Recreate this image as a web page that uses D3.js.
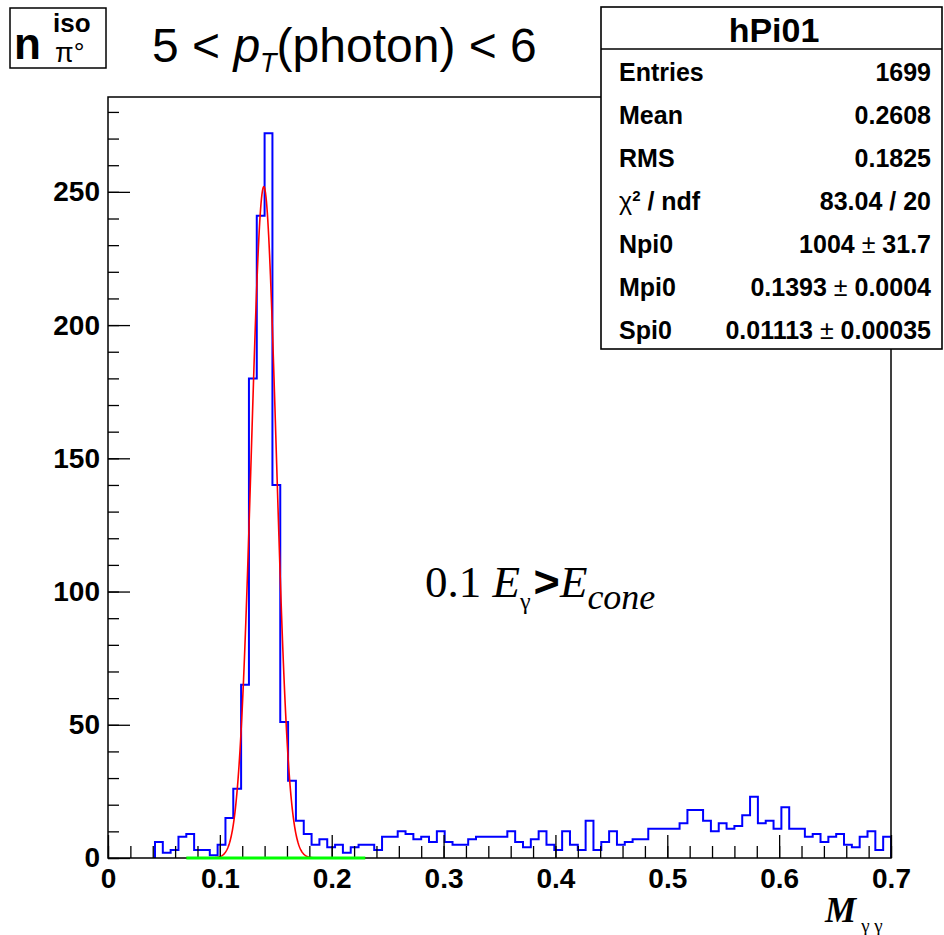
<!DOCTYPE html>
<html lang="en">
<head>
<meta charset="UTF-8" />
<title>hPi01</title>
<script src="https://cdn.jsdelivr.net/npm/d3@7"></script>
<style>
  body { margin: 0; padding: 0; background: #fff; }
  text { font-family: "Liberation Sans", Arial, sans-serif; }
  .serif { font-family: "Liberation Serif", "Times New Roman", serif; }
</style>
</head>
<body>
<svg width="944" height="935"></svg>
<script>
// histogram hPi01: 100 bins between 0 and 0.7
var xRange = [0, 0.7];
var nBins = 100;
var counts = [
  0, 0, 0, 0, 0, 0, 6, 2, 3, 8,
  9, 3, 3, 1, 5, 15, 26, 65, 180, 241,
  272, 140, 51, 29, 14, 9, 5, 7, 4, 5,
  2, 4, 5, 5, 3, 8, 8, 10, 9, 7,
  8, 6, 10, 6, 5, 5, 7, 8, 8, 8,
  8, 10, 6, 4, 7, 10, 5, 3, 10, 5,
  3, 14, 3, 6, 10, 5, 6, 7, 7, 11,
  11, 11, 11, 13, 18, 18, 14, 10, 13, 11,
  12, 16, 23, 13, 14, 11, 19, 11, 11, 8,
  9, 6, 8, 9, 5, 4, 8, 10, 3, 8
];

// gaussian fit (Npi0, Mpi0, Spi0) and its range, background ~ 0
var fitPars = [1004, 0.1393, 0.01113];
var fitRange = [0.07, 0.23];
var bgLevel = 0;

var xMajor = [0, 0.1, 0.2, 0.3, 0.4, 0.5, 0.6, 0.7];
var yMajor = [0, 50, 100, 150, 200, 250];

var statTitle = "hPi01";
var statLabels = ["Entries", "Mean", "RMS", "χ2 / ndf", "Npi0", "Mpi0", "Spi0"];
var statValues = ["1699", "0.2608", "0.1825", "83.04 / 20", "1004 ± 31.7", "0.1393 ± 0.0004", "0.01113 ± 0.00035"];

var svg = d3.select("svg");

var binW = (xRange[1] - xRange[0]) / nBins;
var yMax = 1.05 * d3.max(counts);

var x = d3.scaleLinear().domain(xRange).range([108, 891]);
var y = d3.scaleLinear().domain([0, yMax]).range([858, 97]);

// ---- histogram outline
var first = counts.findIndex(function(c) { return c > 0; });
var pts = [[xRange[0] + first * binW, 0]];
for (var i = first; i < nBins; i++) {
  pts.push([xRange[0] + i * binW, counts[i]]);
  pts.push([xRange[0] + (i + 1) * binW, counts[i]]);
}
pts.push([xRange[1], 0]);

svg.append("path")
  .attr("d", d3.line().x(function(d) { return x(d[0]); }).y(function(d) { return y(d[1]); })(pts))
  .attr("fill", "none")
  .attr("stroke", "#0000ff")
  .attr("stroke-width", 2);

// ---- fit curve
var amp = fitPars[0] * binW / (fitPars[2] * Math.sqrt(2 * Math.PI));
function fitFn(m) {
  var t = (m - fitPars[1]) / fitPars[2];
  return amp * Math.exp(-0.5 * t * t) + bgLevel;
}
var fitPts = d3.range(fitRange[0], fitRange[1] + 1e-9, (fitRange[1] - fitRange[0]) / 400);
svg.append("path")
  .attr("d", d3.line().x(function(d) { return x(d); }).y(function(d) { return y(fitFn(d)); })(fitPts))
  .attr("fill", "none")
  .attr("stroke", "#ff0000")
  .attr("stroke-width", 1.6);

// ---- axes (ticks inside the frame like ROOT)
svg.append("g").attr("transform", "translate(0,858)")
  .call(d3.axisBottom(x).tickValues(xMajor).tickSize(-23).tickPadding(10)
    .tickFormat(function(d) { return d === 0 ? "0" : d3.format(".1f")(d); }));
svg.append("g").attr("transform", "translate(0,858)")
  .call(d3.axisBottom(x).tickValues(d3.range(0, 0.7001, 0.02)).tickSize(-12).tickFormat(""));

svg.append("g").attr("transform", "translate(108,0)")
  .call(d3.axisLeft(y).tickValues(yMajor).tickSize(-22).tickPadding(8));
svg.append("g").attr("transform", "translate(108,0)")
  .call(d3.axisLeft(y).tickValues(d3.range(0, yMax, 10)).tickSize(-11).tickFormat(""));

svg.selectAll(".domain").remove();
svg.selectAll(".tick line").attr("stroke", "#000").attr("stroke-width", 1.3);
svg.selectAll(".tick text")
  .attr("fill", "#000")
  .style("font-family", "'Liberation Sans', Arial, sans-serif")
  .style("font-weight", "bold")
  .style("font-size", "28px");

// frame
svg.append("rect")
  .attr("x", 108).attr("y", 97).attr("width", 891 - 108).attr("height", 858 - 97)
  .attr("fill", "none").attr("stroke", "#000").attr("stroke-width", 1.5);

// background line of the fit (drawn over the axis)
svg.append("line")
  .attr("x1", x(fitRange[0])).attr("x2", x(fitRange[1]))
  .attr("y1", y(bgLevel)).attr("y2", y(bgLevel))
  .attr("stroke", "#00ff00").attr("stroke-width", 3);

// ---- stats box
var sb = svg.append("g");
sb.append("rect").attr("x", 601).attr("y", 7).attr("width", 341).attr("height", 342)
  .attr("fill", "#fff").attr("stroke", "#000").attr("stroke-width", 1.6);
sb.append("line").attr("x1", 601).attr("x2", 942).attr("y1", 49).attr("y2", 49)
  .attr("stroke", "#000").attr("stroke-width", 1.3);
sb.append("text").attr("x", 774).attr("y", 42).attr("text-anchor", "middle")
  .style("font-weight", "bold").style("font-size", "34px").text(statTitle);

statLabels.forEach(function(lab, k) {
  var by = 81 + k * 43;
  var t = sb.append("text").attr("x", 619).attr("y", by)
    .style("font-weight", "bold").style("font-size", "25px");
  if (lab.indexOf("χ2") === 0) {
    t.append("tspan").style("font-weight", "normal").text("χ");
    t.append("tspan").attr("dy", -9).style("font-size", "15px").text("2");
    t.append("tspan").attr("dy", 9).text(lab.slice(2));
  } else {
    t.text(lab);
  }
  var v = sb.append("text").attr("x", 931).attr("y", by).attr("text-anchor", "end")
    .style("font-weight", "bold").style("font-size", "25px");
  var parts = statValues[k].split("±");
  v.append("tspan").text(parts[0]);
  if (parts.length > 1) {
    v.append("tspan").style("font-weight", "normal").text("±");
    v.append("tspan").text(parts[1]);
  }
});

// ---- top left label box
svg.append("rect").attr("x", 10).attr("y", 8).attr("width", 96).attr("height", 60)
  .attr("fill", "#fff").attr("stroke", "#000").attr("stroke-width", 1.5);
svg.append("text").attr("x", 14).attr("y", 59)
  .style("font-weight", "bold").style("font-size", "44px").text("n");
svg.append("text").attr("x", 53).attr("y", 32)
  .style("font-weight", "bold").style("font-size", "26px").text("iso");
svg.append("text").attr("x", 55).attr("y", 62)
  .style("font-size", "27px").text("π°");

// ---- title
var title = svg.append("text").attr("x", 152).attr("y", 62).style("font-size", "48px");
title.append("tspan").text("5 < ");
title.append("tspan").style("font-style", "italic").text("p");
title.append("tspan").attr("dy", 10).style("font-style", "italic").style("font-size", "27px").text("T");
title.append("tspan").attr("dy", -10).text("(photon) < 6");

// ---- isolation cut label
var cut = svg.append("text").attr("class", "serif").attr("x", 425).attr("y", 597).style("font-size", "45px");
cut.append("tspan").text("0.1 ");
cut.append("tspan").style("font-style", "italic").text("E");
cut.append("tspan").attr("dy", 12).style("font-size", "24px").text("γ");
cut.append("tspan").attr("dx", 3).attr("dy", -12).style("font-family", "'Liberation Sans', sans-serif").style("font-weight", "bold").text(">");
cut.append("tspan").style("font-style", "italic").text("E");
cut.append("tspan").attr("dy", 12).style("font-style", "italic").style("font-size", "36px").text("cone");

// ---- x axis title
var xt = svg.append("text").attr("class", "serif").attr("x", 825).attr("y", 922);
xt.append("tspan").style("font-weight", "bold").style("font-style", "italic").style("font-size", "35px").text("M");
xt.append("tspan").attr("dx", 5).attr("dy", 10).style("font-size", "19px").text("γ γ");
</script>
</body>
</html>
